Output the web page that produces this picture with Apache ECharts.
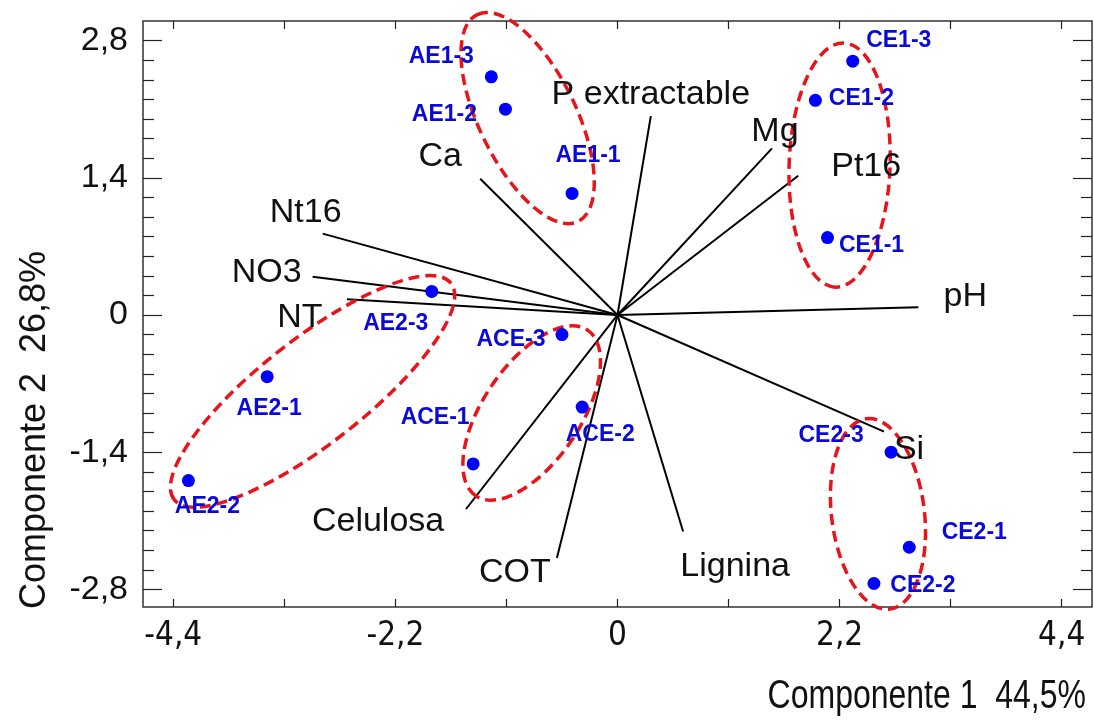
<!DOCTYPE html>
<html>
<head>
<meta charset="utf-8">
<title>Biplot componentes</title>
<script src="https://cdn.jsdelivr.net/npm/echarts@6/dist/echarts.min.js"></script>
<style>
  html, body { margin: 0; padding: 0; background: #fff; }
  #chart { width: 1094px; height: 722px; }
</style>
</head>
<body>
<div id="chart"></div>
<script>
// muestras (puntos azules)
const samples = ['AE1-3', 'AE1-2', 'AE1-1', 'CE1-3', 'CE1-2', 'CE1-1', 'AE2-3', 'AE2-1', 'AE2-2',
  'ACE-3', 'ACE-2', 'ACE-1', 'CE2-3', 'CE2-1', 'CE2-2']
const sampleX = [-1.25, -1.11, -0.45, 2.33, 1.96, 2.08, -1.84, -3.47, -4.25, -0.55, -0.35, -1.43, 2.71, 2.89, 2.54]
const sampleY = [2.43, 2.10, 1.24, 2.59, 2.19, 0.79, 0.24, -0.63, -1.69, -0.20, -0.94, -1.52, -1.40, -2.37, -2.74]

// variables (vectores desde el origen)
const variables = ['P extractable', 'Mg', 'Pt16', 'Ca', 'Nt16', 'NO3', 'NT', 'pH', 'Si', 'Lignina', 'COT', 'Celulosa']
const loadX = [0.33, 1.53, 1.79, -1.36, -2.92, -3.02, -2.68, 2.98, 2.64, 0.65, -0.60, -1.50]
const loadY = [2.03, 1.70, 1.42, 1.39, 0.83, 0.39, 0.16, 0.08, -1.19, -2.21, -2.48, -1.98]

// grupos (elipses): centro, semiejes, angulo en grados
const groupCx = [-0.89, 2.20, -3.02, -0.85, 2.58]
const groupCy = [2.01, 1.53, -0.78, -1.00, -2.03]
const groupA = [1.14, 1.21, 1.74, 0.99, 0.95]
const groupB = [0.48, 0.50, 0.52, 0.48, 0.46]
const groupAngle = [-64, 88, 38, 56, -83]

// desplazamiento de etiquetas (px)
const sampleLabelOffset = [[-50, -20], [-61, 5], [16, -38], [46, -21], [46, -2], [44, 8], [-36, 32], [2, 32],
  [19, 26], [-51, 5], [18, 28], [-38, -46], [-60, -17], [65, -15], [49, 2]]
const varLabelOffset = [[0, -21], [3, -17], [68, -9], [-40, -22], [-17, -21], [-46, -4], [-47, 18], [47, -11],
  [25, 18], [52, 35], [-42, 15], [-88, 13]]

const fmt = (v) => String(Math.round(v * 10) / 10).replace('.', ',')
const NARROW = '"Liberation Sans Narrow", "DejaVu Sans Condensed", "Liberation Sans", sans-serif'
const SANS = '"Liberation Sans", Arial, sans-serif'

const chart = echarts.init(document.getElementById('chart'), null, { renderer: 'canvas' })

const tickAxisX = {
  gridIndex: 1,
  min: -4.4,
  max: 4.4,
  interval: 2.2,
  axisLine: { show: false, onZero: false },
  axisTick: { show: true, inside: true, length: 8, lineStyle: { color: '#222', width: 1.2 } },
  minorTick: { show: true, splitNumber: 2, length: 8, lineStyle: { color: '#222', width: 1.2 } },
  splitLine: { show: false },
  minorSplitLine: { show: false },
}
const tickAxisY = {
  gridIndex: 1,
  min: -2.8,
  max: 2.8,
  interval: 1.4,
  axisLine: { show: false, onZero: false },
  axisTick: { show: true, inside: true, length: 19, lineStyle: { color: '#222', width: 1.2 } },
  minorTick: { show: true, splitNumber: 7, length: 11, lineStyle: { color: '#222', width: 1.2 } },
  splitLine: { show: false },
  minorSplitLine: { show: false },
}

const options = {
  animation: false,
  backgroundColor: '#fff',
  grid: [
    { left: 143, right: 2, top: 21, bottom: 115, show: true, borderColor: '#333', borderWidth: 1.5 },
    { left: 173.3, right: 32.3, top: 40.6, bottom: 132.6 },
  ],
  xAxis: [
    { gridIndex: 0, type: 'value', min: -4.7, max: 4.7, show: false },
    {
      ...tickAxisX,
      position: 'bottom',
      offset: 17.6,
      axisLabel: { show: true, formatter: fmt, margin: 13, color: '#111', fontSize: 33, fontFamily: NARROW },
    },
    { ...tickAxisX, position: 'top', offset: 19.6, axisLabel: { show: false } },
  ],
  yAxis: [
    { gridIndex: 0, type: 'value', min: -2.98, max: 3.0, show: false },
    {
      ...tickAxisY,
      position: 'left',
      offset: 30.3,
      axisLabel: { show: true, formatter: fmt, margin: 15, color: '#111', fontSize: 34, fontFamily: SANS },
    },
    { ...tickAxisY, position: 'right', offset: 30.3, axisLabel: { show: false } },
  ],
  graphic: [
    {
      type: 'text',
      x: 1086,
      y: 697,
      scaleX: 0.8,
      style: {
        text: 'Componente 1  44,5%',
        font: `40px ${SANS}`,
        fill: '#111',
        align: 'right',
        verticalAlign: 'middle',
      },
    },
    {
      type: 'text',
      x: 35,
      y: 430,
      rotation: Math.PI / 2,
      style: {
        text: 'Componente 2  26,8%',
        font: `36px ${SANS}`,
        fill: '#111',
        align: 'center',
        verticalAlign: 'middle',
      },
    },
  ],
  series: [
    ...variables.map((name, i) => ({
      type: 'line',
      name,
      xAxisIndex: 0,
      yAxisIndex: 0,
      data: [[0, 0], [loadX[i], loadY[i]]],
      symbol: 'none',
      silent: true,
      lineStyle: { color: '#000', width: 2 },
      z: 2,
    })),
    {
      type: 'custom',
      name: 'grupos',
      xAxisIndex: 0,
      yAxisIndex: 0,
      clip: false,
      silent: true,
      z: 3,
      data: groupCx.map((c, i) => [c, groupCy[i], groupA[i], groupB[i], groupAngle[i]]),
      renderItem: (params, api) => {
        const c = api.coord([api.value(0), api.value(1)])
        const unit = api.size([1, 1])
        return {
          type: 'ellipse',
          x: c[0],
          y: c[1],
          rotation: api.value(4) * Math.PI / 180,
          shape: { cx: 0, cy: 0, rx: api.value(2) * unit[0], ry: api.value(3) * unit[0] },
          style: { fill: 'none', stroke: '#e8141b', lineWidth: 3.5, lineDash: [11, 6] },
        }
      },
    },
    {
      type: 'scatter',
      name: 'variables',
      xAxisIndex: 0,
      yAxisIndex: 0,
      symbolSize: 0,
      silent: true,
      z: 4,
      itemStyle: { opacity: 1 },
      data: variables.map((name, i) => ({
        name,
        value: [loadX[i], loadY[i]],
        label: { offset: varLabelOffset[i] },
      })),
      label: {
        show: true,
        position: 'inside',
        formatter: '{b}',
        color: '#111',
        fontSize: 34,
        fontFamily: SANS,
      },
    },
    {
      type: 'scatter',
      name: 'muestras',
      xAxisIndex: 0,
      yAxisIndex: 0,
      symbol: 'circle',
      symbolSize: 13,
      silent: true,
      z: 5,
      itemStyle: { color: '#0000ff', opacity: 1 },
      data: samples.map((name, i) => ({
        name,
        value: [sampleX[i], sampleY[i]],
        label: { offset: sampleLabelOffset[i] },
      })),
      label: {
        show: true,
        position: 'inside',
        formatter: '{b}',
        color: '#0a0ad8',
        fontSize: 23,
        fontWeight: 'bold',
        fontFamily: SANS,
      },
    },
  ],
}

chart.setOption(options)
</script>
</body>
</html>
